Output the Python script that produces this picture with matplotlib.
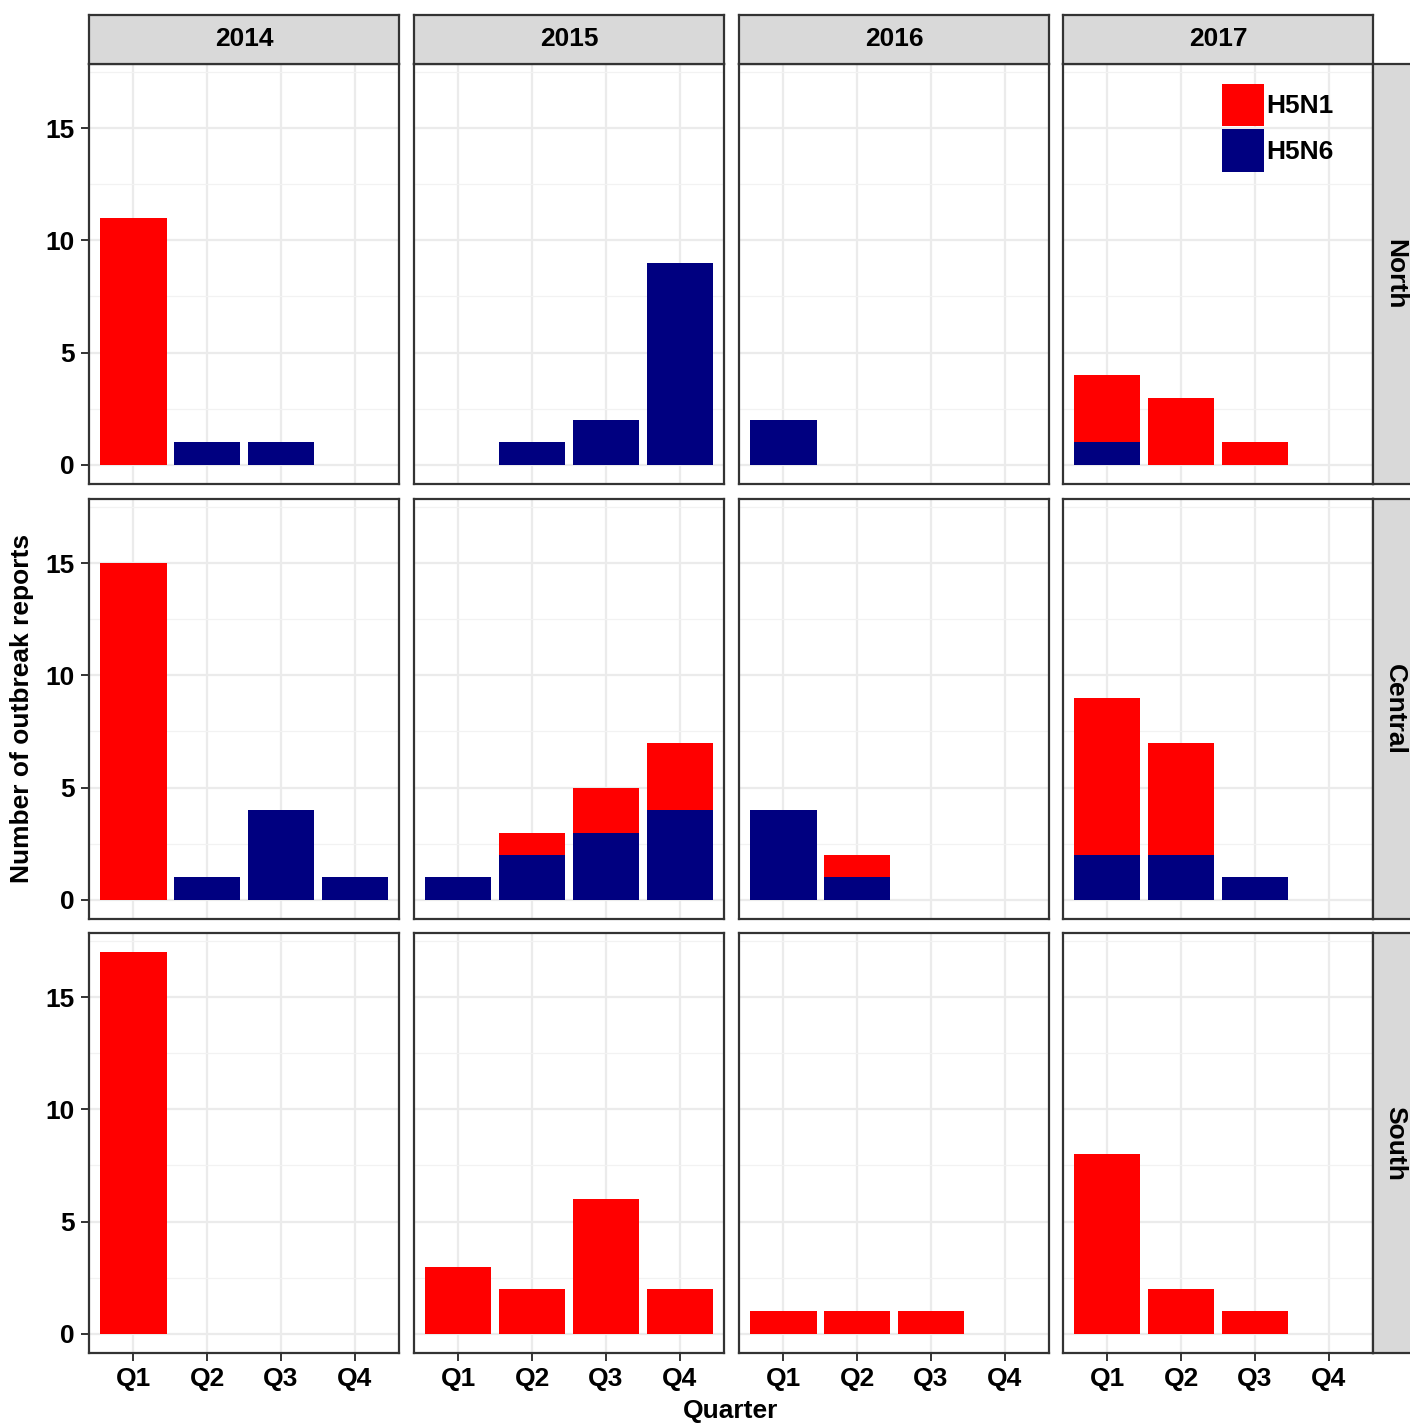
import numpy as np
import matplotlib
matplotlib.use('Agg')
from matplotlib import pyplot as plt
from matplotlib.patches import Patch

plt.rcParams['font.family'] = ['Liberation Sans', 'DejaVu Sans']
plt.rcParams['font.weight'] = 'bold'

years = ['2014', '2015', '2016', '2017']
regions = ['North', 'Central', 'South']
quarters = ['Q1', 'Q2', 'Q3', 'Q4']

# counts per year (rows) and quarter (cols)
h5n1_north = [[11, 0, 0, 0], [0, 0, 0, 0], [0, 0, 0, 0], [3, 3, 1, 0]]
h5n6_north = [[0, 1, 1, 0], [0, 1, 2, 9], [2, 0, 0, 0], [1, 0, 0, 0]]
h5n1_central = [[15, 0, 0, 0], [0, 1, 2, 3], [0, 1, 0, 0], [7, 5, 0, 0]]
h5n6_central = [[0, 1, 4, 1], [1, 2, 3, 4], [4, 1, 0, 0], [2, 2, 1, 0]]
h5n1_south = [[17, 0, 0, 0], [3, 2, 6, 2], [1, 1, 1, 0], [8, 2, 1, 0]]
h5n6_south = [[0, 0, 0, 0], [0, 0, 0, 0], [0, 0, 0, 0], [0, 0, 0, 0]]

h5n1 = [h5n1_north, h5n1_central, h5n1_south]
h5n6 = [h5n6_north, h5n6_central, h5n6_south]

W, H = 1410, 1425
fig = plt.figure(figsize=(W / 100, H / 100), dpi=100)

col_left = [89, 414, 739, 1063]
pan_w = 310
row_top = [64, 499, 933]
pan_h = 420
red = '#FF0000'
navy = '#000080'
border = '#333333'
strip_col = '#D9D9D9'
fs = 19

def fx(px):
    return px / W

def fy(py):
    return 1 - py / H

x = np.arange(len(quarters))
axes = {}
for r, reg in enumerate(regions):
    for c, yr in enumerate(years):
        ax = fig.add_axes([fx(col_left[c]), fy(row_top[r] + pan_h), fx(pan_w), pan_h / H])
        axes[(r, c)] = ax
        n6 = np.array(h5n6[r][c])
        n1 = np.array(h5n1[r][c])
        ax.bar(x, n6, width=0.9, color=navy, zorder=3)
        ax.bar(x, n1, width=0.9, bottom=n6, color=red, zorder=3)
        ax.set_xlim(-0.6, 3.6)
        ax.set_ylim(-0.85, 17.85)
        ax.set_xticks(x)
        ax.set_yticks([0, 5, 10, 15])
        ax.set_yticks([2.5, 7.5, 12.5, 17.5], minor=True)
        ax.grid(True, which='major', color='#EBEBEB', linewidth=1.6, zorder=0)
        ax.grid(True, which='minor', axis='y', color='#F2F2F2', linewidth=0.9, zorder=0)
        ax.set_axisbelow(True)
        for s in ax.spines.values():
            s.set_color(border)
            s.set_linewidth(1.6)
        ax.tick_params(which='minor', length=0)
        ax.tick_params(which='major', length=6, width=1.4, color=border,
                       labelsize=fs, pad=4)
        if c == 0:
            ax.set_yticklabels(['0', '5', '10', '15'], fontweight='bold')
        else:
            ax.tick_params(axis='y', length=0, labelleft=False)
        if r == 2:
            ax.set_xticklabels(quarters, fontweight='bold')
        else:
            ax.tick_params(axis='x', length=0, labelbottom=False)

# top strips
for c, yr in enumerate(years):
    sax = fig.add_axes([fx(col_left[c]), fy(64), fx(pan_w), 49 / H])
    sax.set_facecolor(strip_col)
    sax.set_xticks([])
    sax.set_yticks([])
    for s in sax.spines.values():
        s.set_color(border)
        s.set_linewidth(1.6)
    sax.text(0.5, 0.5, yr, ha='center', va='center', fontsize=fs,
             fontweight='bold', transform=sax.transAxes)

# right strips
for r, reg in enumerate(regions):
    sax = fig.add_axes([fx(col_left[3] + pan_w), fy(row_top[r] + pan_h), fx(44), pan_h / H])
    sax.set_facecolor(strip_col)
    sax.set_xticks([])
    sax.set_yticks([])
    for s in sax.spines.values():
        s.set_color(border)
        s.set_linewidth(1.6)
    sax.text(0.5, 0.5, reg, ha='center', va='center', fontsize=fs,
             fontweight='bold', rotation=-90, transform=sax.transAxes)

fig.text(fx(731), fy(1411), 'Quarter', ha='center', va='center',
         fontsize=fs, fontweight='bold')
fig.text(fx(22), fy(708), 'Number of outbreak reports', ha='center', va='center',
         fontsize=fs, fontweight='bold', rotation=90)

handles = [Patch(facecolor=red, label='H5N1'), Patch(facecolor=navy, label='H5N6')]
axes[(0, 3)].legend(handles=handles, loc='upper left',
                    bbox_to_anchor=(fx(1222), fy(84)), bbox_transform=fig.transFigure,
                    frameon=False, borderpad=0, borderaxespad=0,
                    handlelength=1.59, handleheight=2.09, labelspacing=0.12,
                    handletextpad=0.1, prop={'size': fs, 'weight': 'bold'})

fig.savefig('out.png', dpi=100)
